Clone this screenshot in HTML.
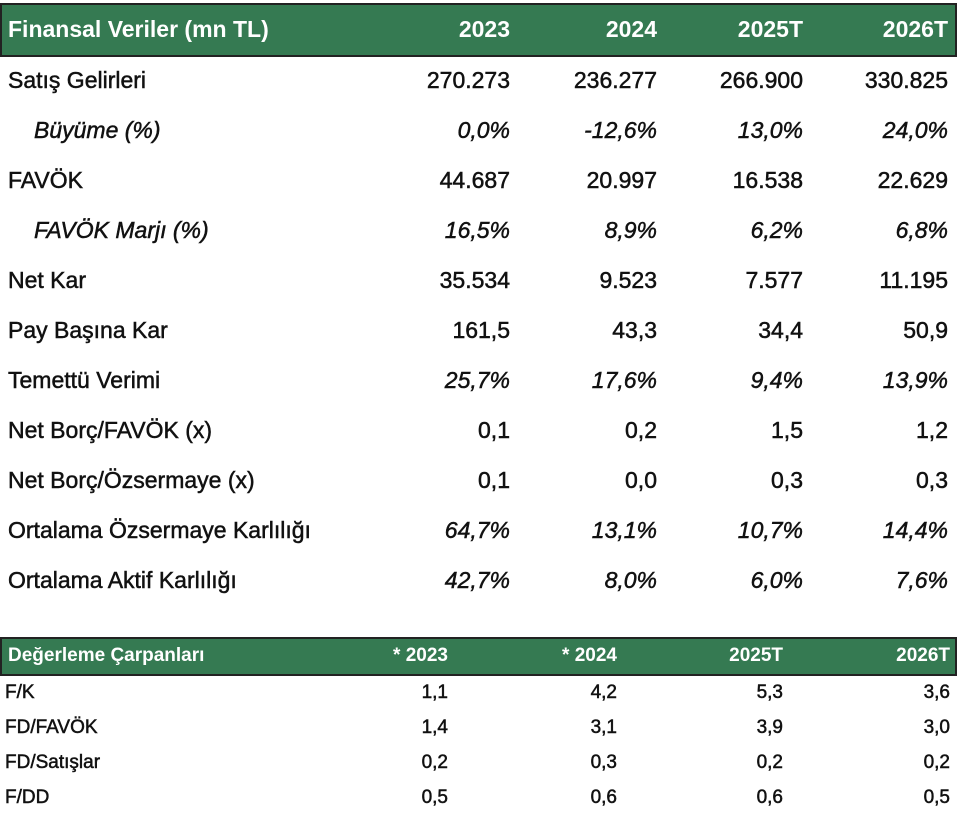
<!DOCTYPE html>
<html><head><meta charset="utf-8"><style>
body{margin:0;width:960px;height:815px;background:#fff;font-family:"Liberation Sans",sans-serif;color:#111;position:relative;overflow:hidden}
.h{position:absolute;left:0;width:957px;background:#357a52;border:2px solid #222;box-sizing:border-box;color:#fff;font-weight:bold}
.t,.r{position:absolute;white-space:nowrap;-webkit-text-stroke:0.5px #111}
.r{text-align:right}
.i{font-style:italic}
</style></head><body>
<div class="h" style="top:3px;height:54px"></div>
<div class="h" style="top:637px;height:39px"></div>
<div id="c"></div>
<script>
var c=document.getElementById('c'),h='';
function row(y,label,vals,cols,fs,opt){opt=opt||{};
 h+='<div class="t'+(opt.it?' i':'')+'" style="top:'+(y-fs*0.6)+'px;left:'+(opt.left||(opt.ind?34:8))+'px;font-size:'+fs+'px;'+(opt.st||'')+'">'+label+'</div>';
 vals.forEach(function(v,k){h+='<div class="r'+(opt.it?' i':'')+'" style="top:'+(y-fs*0.6)+'px;right:'+(960-cols[k])+'px;font-size:'+fs+'px;'+(opt.st||'')+'">'+v+'</div>';});}
var C1=[510,657,803,948],C2=[448,617,783,950];
row(30,'Finansal Veriler (mn TL)',['2023','2024','2025T','2026T'],C1,23,{st:'color:#fff;font-weight:bold;-webkit-text-stroke:0'});
var d=[['Satış Gelirleri',['270.273','236.277','266.900','330.825']],
['Büyüme (%)',['0,0%','-12,6%','13,0%','24,0%'],1,1],
['FAVÖK',['44.687','20.997','16.538','22.629']],
['FAVÖK Marjı (%)',['16,5%','8,9%','6,2%','6,8%'],1,1],
['Net Kar',['35.534','9.523','7.577','11.195']],
['Pay Başına Kar',['161,5','43,3','34,4','50,9']],
['Temettü Verimi',['25,7%','17,6%','9,4%','13,9%'],1,0,1],
['Net Borç/FAVÖK (x)',['0,1','0,2','1,5','1,2']],
['Net Borç/Özsermaye (x)',['0,1','0,0','0,3','0,3']],
['Ortalama Özsermaye Karlılığı',['64,7%','13,1%','10,7%','14,4%'],1,0,1],
['Ortalama Aktif Karlılığı',['42,7%','8,0%','6,0%','7,6%'],1,0,1]];
d.forEach(function(r,k){var y=81+k*50;
 if(r[4]){row(y,r[0],[],C1,23,{});row(y,'',r[1],C1,23,{it:1});}
 else row(y,r[0],r[1],C1,23,{it:r[2],ind:r[3]});});
row(656,'Değerleme Çarpanları',['* 2023','* 2024','2025T','2026T'],C2,19,{st:'color:#fff;font-weight:bold;-webkit-text-stroke:0'});
[['F/K',['1,1','4,2','5,3','3,6']],['FD/FAVÖK',['1,4','3,1','3,9','3,0']],['FD/Satışlar',['0,2','0,3','0,2','0,2']],['F/DD',['0,5','0,6','0,6','0,5']]].forEach(function(r,k){
 row(693+k*35,r[0],r[1],C2,19,{left:5});});
c.innerHTML=h;
</script>
</body></html>
